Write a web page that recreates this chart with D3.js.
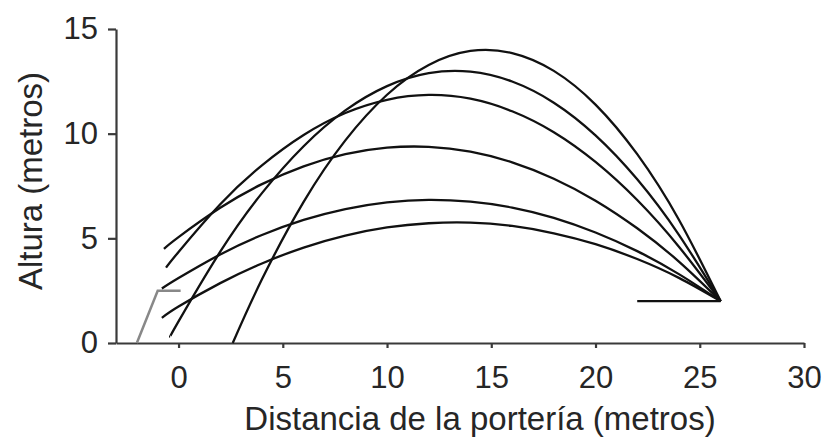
<!DOCTYPE html>
<html>
<head>
<meta charset="utf-8">
<script src="https://cdn.jsdelivr.net/npm/d3@7"></script>
<style>
  body { margin: 0; background: #fff; }
  svg { display: block; font-family: "Liberation Sans", Arial, Helvetica, sans-serif; }
  .trajectory { fill: none; stroke: #111; stroke-width: 2.3; }
  .axis path, .axis line { stroke: #3a3a3a; stroke-width: 2.2; }
  .axis text { fill: #262626; font-size: 31px; }
  .title { fill: #262626; font-size: 33px; }
</style>
</head>
<body>
<div id="chart"></div>
<script>
// ticks
const xTicks = [0, 5, 10, 15, 20, 25, 30];
const yTicks = [0, 5, 10, 15];

// trajectories: [distancia, altura]
const tiro1 = [[2.6, 0], [4, 3.04], [6, 6.74], [8, 9.68], [10, 11.86], [12, 13.28], [14, 13.95], [16, 13.85], [18, 13.0], [20, 11.39], [22, 9.02], [24, 5.89], [26, 2.0]];
const tiro2 = [[-0.4, 0.3], [0, 1.03], [2, 4.36], [4, 7.16], [6, 9.4], [8, 11.11], [10, 12.27], [12, 12.89], [14, 12.96], [16, 12.49], [18, 11.48], [20, 9.92], [22, 7.82], [24, 5.17], [26, 2.0]];
const tiro3 = [[-0.6, 3.6], [0, 4.35], [2, 6.63], [4, 8.49], [6, 9.94], [8, 10.99], [10, 11.62], [12, 11.85], [14, 11.67], [16, 11.07], [18, 10.07], [20, 8.65], [22, 6.83], [24, 4.6], [26, 2.0]];
const tiro4 = [[-0.7, 4.5], [0, 5.06], [2, 6.46], [4, 7.59], [6, 8.44], [8, 9.02], [10, 9.33], [12, 9.37], [14, 9.14], [16, 8.63], [18, 7.85], [20, 6.8], [22, 5.48], [24, 3.89], [26, 2.0]];
const tiro5 = [[-0.8, 2.6], [0, 3.1], [2, 4.23], [4, 5.16], [6, 5.88], [8, 6.4], [10, 6.72], [12, 6.84], [14, 6.75], [16, 6.47], [18, 5.98], [20, 5.28], [22, 4.39], [24, 3.29], [26, 2.0]];
const tiro6 = [[-0.8, 1.2], [0, 1.74], [2, 2.86], [4, 3.8], [6, 4.56], [8, 5.13], [10, 5.52], [12, 5.72], [14, 5.75], [16, 5.59], [18, 5.24], [20, 4.72], [22, 4.01], [24, 3.11], [26, 2.0]];
const tiros = [tiro1, tiro2, tiro3, tiro4, tiro5, tiro6];

// goal outline and the bar at the shooting spot
const porteria = [[-2, 0], [-1, 2.5], [0.1, 2.5]];
const barra = [[22, 2], [26, 2]];

const width = 827, height = 444;

let svg = d3.select("#chart").append("svg")
    .attr("width", width)
    .attr("height", height);

let x = d3.scaleLinear().domain([-3, 30]).range([116, 804]);
let y = d3.scaleLinear().domain([0, 15]).range([343, 29]);

// x axis
svg.append("g")
    .attr("class", "axis")
    .attr("transform", `translate(0,${y(0)})`)
    .call(d3.axisBottom(x).tickValues(xTicks).tickSize(5).tickSizeOuter(0).tickPadding(18));

// y axis
svg.append("g")
    .attr("class", "axis")
    .attr("transform", `translate(${x(-3)},0)`)
    .call(d3.axisLeft(y).tickValues(yTicks).tickSize(8).tickSizeOuter(0).tickPadding(10));

svg.selectAll(".axis .tick text").attr("font-family", null).attr("font-size", null);

// titles
svg.append("text")
    .attr("class", "title")
    .attr("x", 480)
    .attr("y", 430)
    .attr("text-anchor", "middle")
    .text("Distancia de la portería (metros)");

svg.append("text")
    .attr("class", "title")
    .attr("transform", `translate(42,181) rotate(-90)`)
    .attr("text-anchor", "middle")
    .text("Altura (metros)");

let line = d3.line()
    .x(d => x(d[0]))
    .y(d => y(d[1]));

svg.append("path")
    .datum(porteria)
    .attr("d", line)
    .attr("fill", "none")
    .attr("stroke", "#888")
    .attr("stroke-width", 2.5);

svg.append("path")
    .datum(barra)
    .attr("d", line)
    .attr("fill", "none")
    .attr("stroke", "#111")
    .attr("stroke-width", 2.3);

svg.append("g").selectAll("path")
    .data(tiros)
    .join("path")
    .attr("class", "trajectory")
    .attr("d", line.curve(d3.curveNatural));
</script>
</body>
</html>
